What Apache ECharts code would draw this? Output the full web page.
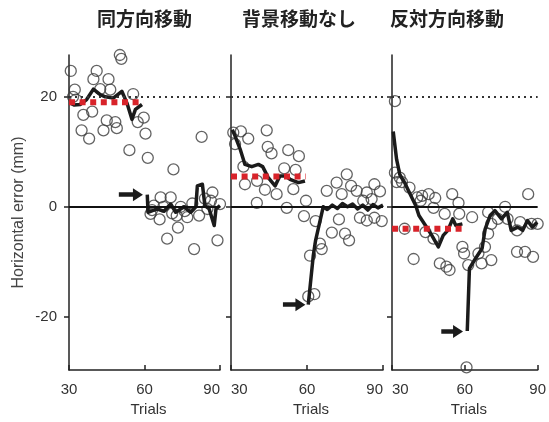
<!DOCTYPE html>
<html><head><meta charset="utf-8">
<script src="https://cdn.jsdelivr.net/npm/echarts@6/dist/echarts.min.js"></script>
<style>html,body{margin:0;padding:0;background:#fff}#c{width:549px;height:422px}</style>
</head><body><div id="c"></div>
<script>
// ---------- data ----------
const panelTitles = ['同方向移動', '背景移動なし', '反対方向移動'];
const xTicks = [30, 60, 90];
const yTicks = [-20, 0, 20];
const xName = 'Trials';
const yName = 'Horizontal error (mm)';

// panel 1: 同方向移動
const p1Dots = [
  [30.7,24.7],[41,24.7],[39.7,23.2],[45.7,23.2],[32.3,21.3],[32.8,19.5],[42.4,21.4],[46.4,21.3],
  [55.5,20.5],[35.7,16.7],[39.2,17.3],[45,15.7],[48.4,15.4],[43.7,13.9],[49,14.3],[35,13.9],
  [38,12.4],[59.7,16.2],[57.3,15.4],[60.4,13.3],[54,10.3],[50.2,27.6],[50.8,26.9],[31.6,20],
  [61.3,8.9],[71.5,6.8],[82.7,12.7],[66.4,1.7],[70.4,1.7],[62.4,-1.3],[66,-2.3],[69,-5.8],
  [73.3,-3.8],[79.7,-7.7],[89,-6.1],[87,2.6],[86.4,1.1],[90,0.5],[81.7,-1.6],[77,-1.9],
  [72.8,-1.6],[74.4,0],[85,-0.4],[63.7,0.2],[67.5,0],[76,-0.8],[79,0.6],[84,1.5],[63,-0.6],[71,-1.2]
];
const p1LineA = [[30.4,18.9],[32,18.5],[34.4,18.6],[37,19.5],[39.7,21.4],[42.4,20.4],[44.4,20],[47.7,19.8],
  [51,21],[53,18.9],[55,15.9],[56.4,17.7],[59,18.6]];
const p1LineB = [[61.1,2.2],[61.4,-1],[65,-0.4],[67.7,-0.8],[70.4,0.5],[72.4,-1],[75.7,0],[78.4,-1],
  [80.4,0],[81,3.8],[83,4.1],[84,0.2],[85.7,-0.4],[87.7,-3.4],[88.4,-0.4],[90,0.2]];
const p1Baseline = 19;
const p1Arrow = [49.8, 57.4, 2.2];

// panel 2: 背景移動なし
const p2Dots = [
  [30.9,13.5],[33.9,13.7],[36.8,12.4],[44.1,13.9],[31.6,11.4],[44.5,10.9],[46,9.7],[52.6,10.3],
  [56.8,9.2],[34.9,7.3],[51,7],[55.5,6.7],[35.5,4.1],[43.4,3.1],[48,2.3],[54.6,3.2],[40.2,0.7],
  [52,-0.2],[59.6,1.1],[58.8,-1.7],[40.3,4.7],
  [75.7,5.9],[71.7,4.4],[67.8,2.9],[73.7,2.3],[77.4,3.8],[79.6,2.9],[83.6,2.6],[86.6,4.1],[88.8,2.8],
  [85.5,1.4],[82.2,1.1],[63.4,-2.6],[69.8,-4.7],[75,-4.9],[76.6,-6.1],[65.1,-6.7],[65.8,-7.7],
  [61.2,-8.9],[60.5,-16.3],[62.9,-15.9],[72.6,-2.3],[80.9,-2],[83.6,-2.5],[86.6,-2],[89.5,-2.6]
];
const p2LineA = [[30.5,14],[31.5,13],[33.6,10.5],[35.5,7.7],[38.2,7.3],[40.8,7.7],[42.5,7.3],[44.7,5.3],
  [47.4,3.8],[49.3,5.6],[51.5,5.6],[53.3,5],[56.6,4.4],[59.2,4.7]];
const p2LineB = [[60.5,-17.8],[62.5,-8.8],[63.4,-6.1],[66.4,0],[68,-0.5],[70,0.3],[72,-0.3],[74,0.6],
  [76,0],[78,0.5],[80,-0.4],[82,0.3],[84,-0.6],[86,0.4],[88,-0.2],[90,0.3]];
const p2Baseline = 5.5;
const p2Arrow = [50.5, 57.4, -17.8];

// panel 3: 反対方向移動
const p3Dots = [
  [31.2,19.2],[31.2,6.2],[33.2,5.3],[31.9,4.5],[34.1,4.5],[37.2,3.5],[40.4,1.7],[41.8,1.1],[42.4,2],
  [45.1,2.3],[47.8,1.6],[54.8,2.3],[47.1,-0.2],[51.7,-1.3],[57.4,0.7],[57.7,-1.3],[35.2,-4],
  [43.8,-4.6],[47.1,-5.8],[38.9,-9.5],[49.7,-10.3],[52.4,-10.9],[53.7,-11.5],[59,-7.3],[59.7,-8.5],
  [60.7,-29.2],[61.4,-10.6],[63,-1.9],[66.9,-10.3],[70.9,-9.7],[65.6,-8.5],[68.3,-7.3],[69.6,-4.9],
  [70.9,-3.1],[73.6,-2.2],[69.6,-1],[76.6,0],[77.6,-2.2],[81.5,-4.3],[82.8,-2.8],[86.1,2.3],
  [81.5,-8.2],[84.8,-8.2],[88.1,-9.1],[87.5,-3.1],[90,-3.1]
];
const p3LineA = [[30.5,13.7],[31.9,8.6],[33.2,5.9],[35.2,4.4],[36.5,3.2],[39.8,0.2],[41.1,-1.6],[43.8,-3.4],
  [46.4,-5.2],[49.1,-7.3],[51.1,-5.2],[53,-4.3],[55,-2.2],[56.3,-3.4],[59,-3.1]];
const p3LineB = [[61,-22.6],[61.9,-11.2],[64.4,-9.4],[67.1,-7.6],[68.4,-4],[70.4,-1.6],[72.4,-0.7],[75.1,-2.2],
  [77.5,-1],[79.1,-4.3],[81.8,-3.7],[83.8,-4.3],[85.8,-2.5],[87.8,-3.7],[89.8,-2.8]];
const p3Baseline = -4;
const p3Arrow = [50.3, 57.2, -22.7];

const redEnd = 59.5;
const upperRef = 20;
const zeroRef = 0;

// ---------- build ----------
const panels = [
  {dots: p1Dots, a: p1LineA, b: p1LineB, base: p1Baseline, arrow: p1Arrow},
  {dots: p2Dots, a: p2LineA, b: p2LineB, base: p2Baseline, arrow: p2Arrow},
  {dots: p3Dots, a: p3LineA, b: p3LineB, base: p3Baseline, arrow: p3Arrow}
];
const layout = [
  {left: 69, width: 151, titleLeft: 97, minAlign: 'center', maxAlign: 'right'},
  {left: 231, width: 152, titleLeft: 242, minAlign: 'left', maxAlign: 'right'},
  {left: 392, width: 151, titleLeft: 390, minAlign: 'left', maxAlign: 'center'}
];
const font = 'Liberation Sans, Arial, sans-serif';
const axisColor = '#222';

const grid = [], xAxis = [], yAxis = [], series = [], title = [];
panels.forEach((p, i) => {
  const L = layout[i];
  grid.push({left: L.left, width: L.width, top: 55, height: 318});
  title.push({text: panelTitles[i], left: L.titleLeft, top: 9, padding: 0,
    textStyle: {fontFamily: 'Noto Sans CJK JP', fontSize: 19, fontWeight: 'bold', color: '#222'}});
  xAxis.push({
    gridIndex: i, type: 'value', min: xTicks[0], max: xTicks[xTicks.length - 1],
    axisLine: {show: true, onZero: false, lineStyle: {color: axisColor, width: 1.5}},
    axisTick: {show: true, inside: true, length: 5, customValues: xTicks, lineStyle: {color: axisColor, width: 1.5}},
    axisLabel: {show: true, customValues: xTicks, margin: 12, fontSize: 15, color: '#333', fontFamily: font,
      alignMinLabel: L.minAlign, alignMaxLabel: L.maxAlign},
    splitLine: {show: false},
    name: xName, nameLocation: 'middle', nameGap: 31,
    nameTextStyle: {fontSize: 15, color: '#333', fontFamily: font, padding: [0, 0, 0, 8]}
  });
  yAxis.push({
    gridIndex: i, type: 'value', min: -29.7, max: 27.6,
    axisLine: {show: true, onZero: false, lineStyle: {color: axisColor, width: 1.5}},
    axisTick: {show: true, inside: false, length: 5, customValues: yTicks, lineStyle: {color: axisColor, width: 1.5}},
    axisLabel: {show: i === 0, customValues: yTicks, margin: 12, fontSize: 15, color: '#333', fontFamily: font},
    splitLine: {show: false},
    name: i === 0 ? yName : '', nameLocation: 'middle', nameGap: 42,
    nameTextStyle: {fontSize: 16, color: '#444', fontFamily: font}
  });
  const ax = {xAxisIndex: i, yAxisIndex: i};
  series.push(Object.assign({
    type: 'line', data: [], z: 1, silent: true,
    markLine: {silent: true, symbol: 'none', animation: false, label: {show: false},
      data: [
        {yAxis: zeroRef, lineStyle: {color: '#111', width: 2, type: 'solid'}},
        {yAxis: upperRef, lineStyle: {color: '#333', width: 2, type: [2, 4]}}
      ]}
  }, ax));
  series.push(Object.assign({
    type: 'scatter', data: p.dots, symbol: 'circle', symbolSize: 11, z: 2, clip: true,
    itemStyle: {color: 'rgba(0,0,0,0)', borderColor: '#3c3c3c', borderWidth: 1.3}
  }, ax));
  [p.a, p.b].forEach(d => series.push(Object.assign({
    type: 'line', data: d, showSymbol: false, symbol: 'none', z: 3,
    lineStyle: {color: '#1b1b1b', width: 3.5, join: 'round'}
  }, ax)));
  series.push(Object.assign({
    type: 'line', data: [[xTicks[0], p.base], [redEnd, p.base]], showSymbol: false, symbol: 'none', z: 4,
    lineStyle: {color: '#d8232a', width: 6, type: [6, 4.6], cap: 'butt'}
  }, ax));
  series.push(Object.assign({
    type: 'line', data: [], z: 5, silent: true,
    markLine: {silent: true, animation: false, symbol: ['none', 'triangle'], symbolSize: [13, 10],
      label: {show: false},
      lineStyle: {color: '#1b1b1b', width: 4.5, type: 'solid'},
      data: [[{coord: [p.arrow[0], p.arrow[2]]}, {coord: [p.arrow[1], p.arrow[2]]}]]}
  }, ax));
});

const chart = echarts.init(document.getElementById('c'), null, {renderer: 'canvas'});
chart.setOption({backgroundColor: '#fff', animation: false, title, grid, xAxis, yAxis, series});
</script>
</body></html>
